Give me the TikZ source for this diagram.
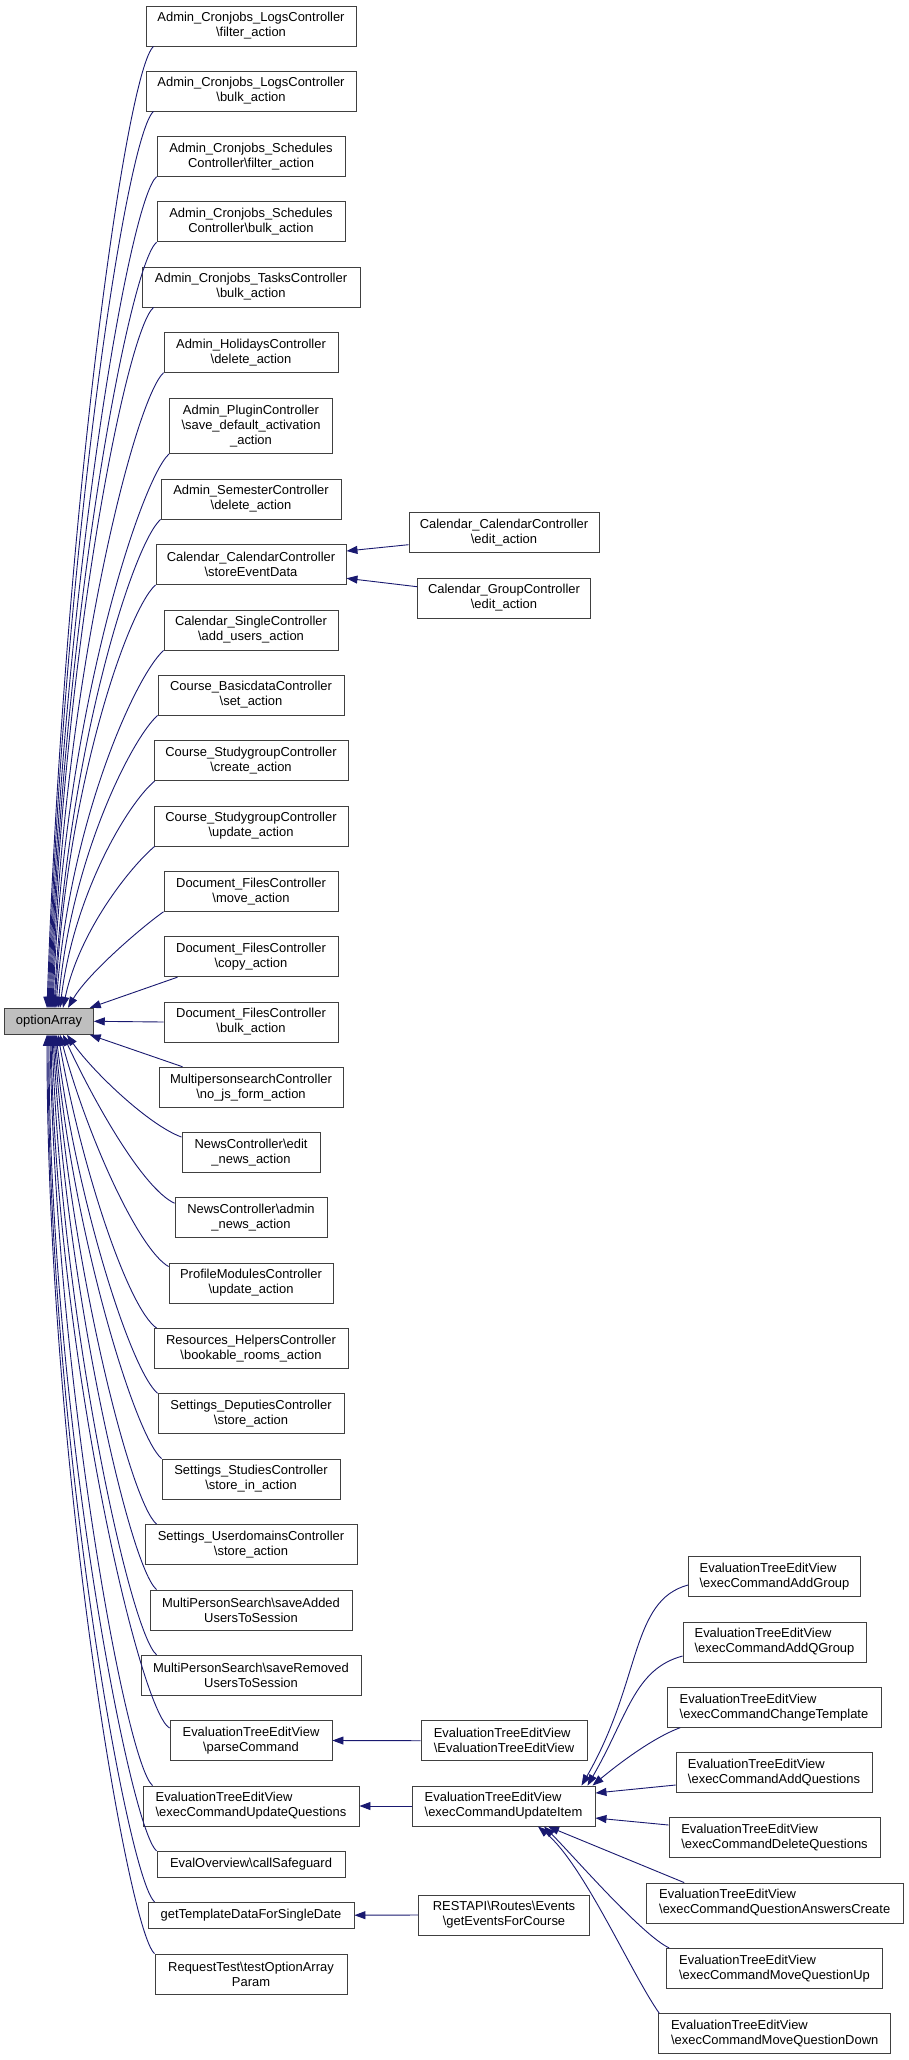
\documentclass[tikz,border=0pt]{standalone}
\usepackage{fontspec}
\setmainfont{Liberation Sans}
\usetikzlibrary{arrows.meta}

\definecolor{edgeblue}{HTML}{191970}
\definecolor{boxgray}{HTML}{404040}
\definecolor{selgray}{HTML}{BFBFBF}
\newcommand{\bsl}{\textbackslash}

\begin{document}
\begin{tikzpicture}[x=1pt, y=1pt,
    fn/.style = {draw=boxgray, line width=0.9pt, fill=white, inner sep=0pt, minimum height=40, align=center, font=\fontsize{12.95pt}{15pt}\selectfont},
    fnl/.style = {fn, align=left},
    sel/.style = {fn, fill=selgray, minimum height=26},
    call/.style = {-{Triangle[length=11pt, width=8pt]}, draw=edgeblue, line width=0.9pt}]

            \fill[white] (0,0) rectangle (908,-2060);

            % Sommets
            \node[sel, minimum width=88.6] (0) at (49,-1021.3) {optionArray};

            \node[fn, minimum width=210] (1) at (251,-26) {Admin\_Cronjobs\_LogsController\\\bsl filter\_action};
            \node[fn, minimum width=210] (2) at (251,-91) {Admin\_Cronjobs\_LogsController\\\bsl bulk\_action};
            \node[fn, minimum width=188] (3) at (251,-156.3) {Admin\_Cronjobs\_Schedules\\Controller\bsl filter\_action};
            \node[fn, minimum width=188] (4) at (251,-221.8) {Admin\_Cronjobs\_Schedules\\Controller\bsl bulk\_action};
            \node[fn, minimum width=218] (5) at (251,-287) {Admin\_Cronjobs\_TasksController\\\bsl bulk\_action};
            \node[fn, minimum width=174] (6) at (251,-352.3) {Admin\_HolidaysController\\\bsl delete\_action};
            \node[fn, minimum width=163, minimum height=55] (7) at (251,-426) {Admin\_PluginController\\\bsl save\_default\_activation\\\_action};
            \node[fn, minimum width=180] (8) at (251,-499) {Admin\_SemesterController\\\bsl delete\_action};
            \node[fn, minimum width=190] (9) at (251,-564.4) {Calendar\_CalendarController\\\bsl storeEventData};
            \node[fn, minimum width=174] (10) at (251,-630) {Calendar\_SingleController\\\bsl add\_users\_action};
            \node[fn, minimum width=186] (11) at (251,-695) {Course\_BasicdataController\\\bsl set\_action};
            \node[fn, minimum width=194] (12) at (251,-760.7) {Course\_StudygroupController\\\bsl create\_action};
            \node[fn, minimum width=194] (13) at (251,-826) {Course\_StudygroupController\\\bsl update\_action};
            \node[fn, minimum width=174] (14) at (251,-891.3) {Document\_FilesController\\\bsl move\_action};
            \node[fn, minimum width=174] (15) at (251,-956.7) {Document\_FilesController\\\bsl copy\_action};
            \node[fn, minimum width=174] (16) at (251,-1022) {Document\_FilesController\\\bsl bulk\_action};
            \node[fn, minimum width=184] (17) at (251,-1087.2) {MultipersonsearchController\\\bsl no\_js\_form\_action};
            \node[fn, minimum width=138] (18) at (251,-1152.5) {NewsController\bsl edit\\\_news\_action};
            \node[fn, minimum width=152] (19) at (251,-1217.7) {NewsController\bsl admin\\\_news\_action};
            \node[fn, minimum width=164] (20) at (251,-1283) {ProfileModulesController\\\bsl update\_action};
            \node[fn, minimum width=194] (21) at (251,-1348.5) {Resources\_HelpersController\\\bsl bookable\_rooms\_action};
            \node[fn, minimum width=186] (22) at (251,-1413.7) {Settings\_DeputiesController\\\bsl store\_action};
            \node[fn, minimum width=178] (23) at (251,-1479) {Settings\_StudiesController\\\bsl store\_in\_action};
            \node[fn, minimum width=212] (24) at (251,-1544.5) {Settings\_UserdomainsController\\\bsl store\_action};
            \node[fn, minimum width=202] (25) at (251,-1610) {MultiPersonSearch\bsl saveAdded\\UsersToSession};
            \node[fn, minimum width=220] (26) at (251,-1675.2) {MultiPersonSearch\bsl saveRemoved\\UsersToSession};
            \node[fn, minimum width=162] (27) at (251,-1740.5) {EvaluationTreeEditView\\\bsl parseCommand};
            \node[fnl, minimum width=216] (28) at (251,-1806) {EvaluationTreeEditView\\\bsl execCommandUpdateQuestions};
            \node[fn, minimum width=188, minimum height=26] (29) at (251,-1864.3) {EvalOverview\bsl callSafeguard};
            \node[fn, minimum width=206, minimum height=26] (30) at (251,-1915.2) {getTemplateDataForSingleDate};
            \node[fn, minimum width=192] (31) at (251,-1974) {RequestTest\bsl testOptionArray\\Param};

            \node[fn, minimum width=190] (32) at (504,-532.5) {Calendar\_CalendarController\\\bsl edit\_action};
            \node[fn, minimum width=173] (33) at (504,-598) {Calendar\_GroupController\\\bsl edit\_action};
            \node[fnl, minimum width=166] (34) at (504,-1740.7) {EvaluationTreeEditView\\\bsl EvaluationTreeEditView};
            \node[fnl, minimum width=183] (35) at (503.5,-1806) {EvaluationTreeEditView\\\bsl execCommandUpdateItem};
            \node[fn, minimum width=171] (36) at (504,-1915) {RESTAPI\bsl Routes\bsl Events\\\bsl getEventsForCourse};

            \node[fnl, minimum width=172] (37) at (774.5,-1576.5) {EvaluationTreeEditView\\\bsl execCommandAddGroup};
            \node[fnl, minimum width=183] (38) at (774.5,-1642) {EvaluationTreeEditView\\\bsl execCommandAddQGroup};
            \node[fnl, minimum width=214] (39) at (774,-1707.2) {EvaluationTreeEditView\\\bsl execCommandChangeTemplate};
            \node[fnl, minimum width=196] (40) at (774,-1772.5) {EvaluationTreeEditView\\\bsl execCommandAddQuestions};
            \node[fnl, minimum width=211] (41) at (774.5,-1837.7) {EvaluationTreeEditView\\\bsl execCommandDeleteQuestions};
            \node[fnl, minimum width=257] (42) at (774.7,-1903) {EvaluationTreeEditView\\\bsl execCommandQuestionAnswersCreate};
            \node[fnl, minimum width=216] (43) at (774.5,-1968.3) {EvaluationTreeEditView\\\bsl execCommandMoveQuestionUp};
            \node[fnl, minimum width=232] (44) at (774.7,-2033.7) {EvaluationTreeEditView\\\bsl execCommandMoveQuestionDown};

            % Arcs vers optionArray (au-dessus)
            \draw[call] ([xshift=8pt]1.south west) to[out=220, in=88, out distance=35pt, in distance=500pt] ([xshift=-2pt]0.north);
            \draw[call] ([xshift=8pt]2.south west) to[out=220, in=88, out distance=35pt, in distance=465pt] ([xshift=-1pt]0.north);
            \draw[call] (3.south west) to[out=220, in=88, out distance=35pt, in distance=430pt] (0.north);
            \draw[call] (4.south west) to[out=220, in=88, out distance=35pt, in distance=395pt] ([xshift=1pt]0.north);
            \draw[call] ([xshift=12pt]5.south west) to[out=220, in=88, out distance=35pt, in distance=360pt] ([xshift=2pt]0.north);
            \draw[call] (6.south west) to[out=222, in=88, out distance=38pt, in distance=330pt] ([xshift=3pt]0.north);
            \draw[call] (7.south west) to[out=222, in=88, out distance=38pt, in distance=290pt] ([xshift=4pt]0.north);
            \draw[call] (8.south west) to[out=222, in=87, out distance=38pt, in distance=255pt] ([xshift=5pt]0.north);
            \draw[call] (9.south west) to[out=222, in=87, out distance=38pt, in distance=220pt] ([xshift=6pt]0.north);
            \draw[call] (10.south west) to[out=222, in=86, out distance=38pt, in distance=185pt] ([xshift=7pt]0.north);
            \draw[call] (11.south west) to[out=222, in=85, out distance=35pt, in distance=150pt] ([xshift=9pt]0.north);
            \draw[call] ([xshift=1pt]12.south west) to[out=220, in=83, out distance=35pt, in distance=115pt] ([xshift=11pt]0.north);
            \draw[call] ([xshift=1pt]13.south west) to[out=220, in=78, out distance=30pt, in distance=80pt] ([xshift=14pt]0.north);
            \draw[call] (14.south west) to[out=215, in=60, out distance=25pt, in distance=40pt] ([xshift=19pt]0.north);
            \draw[call] ([xshift=14pt]15.south west) -- ([xshift=-4pt]0.north east);
            \draw[call] (16.west) -- (0.east);

            % Arcs vers optionArray (au-dessous)
            \draw[call] ([xshift=24pt]17.north west) -- ([xshift=-4pt]0.south east);
            \draw[call] ([yshift=-5pt]18.north west) to[out=160, in=305, out distance=35pt, in distance=45pt] ([xshift=18pt]0.south);
            \draw[call] ([yshift=-6pt]19.north west) to[out=155, in=295, out distance=35pt, in distance=75pt] ([xshift=14pt]0.south);
            \draw[call] ([yshift=-4pt]20.north west) to[out=150, in=285, out distance=35pt, in distance=105pt] ([xshift=11pt]0.south);
            \draw[call] ([xshift=3pt]21.north west) to[out=145, in=280, out distance=35pt, in distance=135pt] ([xshift=9pt]0.south);
            \draw[call] (22.north west) to[out=140, in=277, out distance=35pt, in distance=165pt] ([xshift=7pt]0.south);
            \draw[call] (23.north west) to[out=140, in=275, out distance=35pt, in distance=195pt] ([xshift=6pt]0.south);
            \draw[call] ([xshift=12pt]24.north west) to[out=140, in=274, out distance=35pt, in distance=225pt] ([xshift=5pt]0.south);
            \draw[call] ([xshift=7pt]25.north west) to[out=140, in=273, out distance=35pt, in distance=255pt] ([xshift=4pt]0.south);
            \draw[call] ([xshift=16pt]26.north west) to[out=140, in=272, out distance=35pt, in distance=285pt] ([xshift=3pt]0.south);
            \draw[call] ([yshift=-8pt]27.north west) to[out=150, in=271, out distance=35pt, in distance=315pt] ([xshift=2pt]0.south);
            \draw[call] ([xshift=10pt]28.north west) to[out=140, in=271, out distance=35pt, in distance=345pt] ([xshift=1pt]0.south);
            \draw[call] (29.north west) to[out=140, in=270, out distance=35pt, in distance=375pt] (0.south);
            \draw[call] ([xshift=7pt]30.north west) to[out=140, in=270, out distance=35pt, in distance=400pt] ([xshift=-1pt]0.south);
            \draw[call] (31.north west) to[out=140, in=270, out distance=35pt, in distance=420pt] ([xshift=-2pt]0.south);

            % Arcs de la deuxieme colonne
            \draw[call] ([yshift=-12.2pt]32.west) -- ([yshift=13.4pt]9.east);
            \draw[call] ([yshift=11.3pt]33.west) -- ([yshift=-13.9pt]9.east);
            \draw[call] (34.west) -- (27.east);
            \draw[call] (35.west) -- (28.east);
            \draw[call] (36.west) -- (30.east);

            % Arcs vers execCommandUpdateItem
            \draw[call] ([yshift=-8.5pt]37.west) to[out=195, in=60, out distance=60pt, in distance=120pt] ([xshift=78pt]35.north);
            \draw[call] ([yshift=-14pt]38.west) to[out=195, in=60, out distance=50pt, in distance=80pt] ([xshift=84pt]35.north);
            \draw[call] ([xshift=13.7pt]39.south west) to[out=200, in=40, out distance=30pt, in distance=30pt] ([xshift=89pt]35.north);
            \draw[call] ([yshift=-12.5pt]40.west) -- ([yshift=13pt]35.east);
            \draw[call] ([yshift=12.7pt]41.west) -- ([yshift=-12pt]35.east);
            \draw[call] ([xshift=38.4pt]42.north west) -- ([xshift=44.5pt]35.south);
            \draw[call] ([xshift=3pt]43.north west) to[out=155, in=315, out distance=30pt, in distance=40pt] ([xshift=40.5pt]35.south);
            \draw[call] ([xshift=1pt]44.north west) to[out=125, in=320, out distance=50pt, in distance=60pt] ([xshift=34.5pt]35.south);
        \end{tikzpicture}
\end{document}
